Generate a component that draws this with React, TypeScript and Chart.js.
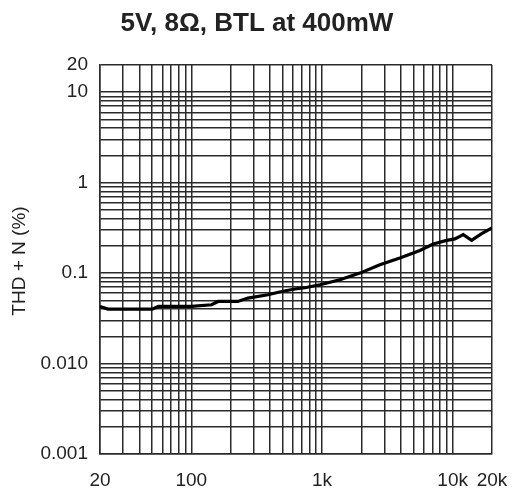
import React, { useEffect, useRef } from "react";
import { Chart, registerables } from "chart.js";

Chart.register(...registerables);

// ---- data ----
const TITLE = "5V, 8\u03A9, BTL at 400mW";
const Y_LABEL = "THD + N (%)";

const freqHz = [20, 23, 50, 56, 100, 143, 160, 227, 271, 386, 491, 621, 741, 964, 1371, 1950, 2774, 3946, 5614, 7096, 8989, 10400, 12050, 13970, 16650, 20000];
const thdPct = [0.0428, 0.040, 0.040, 0.0428, 0.0428, 0.0447, 0.0486, 0.0486, 0.053, 0.0576, 0.0627, 0.0667, 0.0689, 0.0744, 0.0846, 0.100, 0.124, 0.147, 0.178, 0.210, 0.230, 0.239, 0.266, 0.230, 0.273, 0.316];

// grid positions
const xGridValues = [
  20, 30, 40, 50, 60, 70, 80, 90,
  100, 200, 300, 400, 500, 600, 700, 800, 900,
  1000, 2000, 3000, 4000, 5000, 6000, 7000, 8000, 9000,
  10000, 20000,
];
const xTickValues = [20, 100, 1000, 10000, 20000];
const xTickLabels = ["20", "100", "1k", "10k", "20k"];

const yGridValues = [
  0.001, 0.002, 0.003, 0.004, 0.005, 0.006, 0.007, 0.008, 0.009,
  0.01, 0.02, 0.03, 0.04, 0.05, 0.06, 0.07, 0.08, 0.09,
  0.1, 0.2, 0.3, 0.4, 0.5, 0.6, 0.7, 0.8, 0.9,
  1, 2, 3, 4, 5, 6, 7, 8, 9,
  10, 20,
];
const yTickValues = [0.001, 0.01, 0.1, 1, 10, 20];
const yTickLabels = ["0.001", "0.010", "0.1", "1", "10", "20"];

const FONT = "'Liberation Sans', Arial, Helvetica, sans-serif";
const TEXT_COLOR = "#222";
const GRID_COLOR = "#2a2a2a";

function labelFor(values: number[], labels: string[], v: number): string {
  for (let i = 0; i < values.length; i++) {
    if (Math.abs(values[i] - v) / values[i] < 1e-6) return labels[i];
  }
  return "";
}

const textPlugin = {
  id: "extraText",
  afterDraw(chart: any) {
    const ctx = chart.ctx as CanvasRenderingContext2D;
    ctx.save();
    ctx.fillStyle = TEXT_COLOR;
    ctx.font = `bold 26px ${FONT}`;
    ctx.textAlign = "center";
    ctx.textBaseline = "alphabetic";
    ctx.fillText(TITLE, 257, 31);

    ctx.font = `19px ${FONT}`;
    ctx.translate(20, 261);
    ctx.rotate(-Math.PI / 2);
    ctx.textBaseline = "middle";
    ctx.fillText(Y_LABEL, 0, 0);
    ctx.restore();
  },
};

export default function App() {
  const canvasRef = useRef<HTMLCanvasElement | null>(null);

  useEffect(() => {
    if (!canvasRef.current) return;
    const chart = new Chart(canvasRef.current, {
      type: "line",
      data: {
        datasets: [
          {
            data: freqHz.map((f, i) => ({ x: f, y: thdPct[i] })),
            borderColor: "#000",
            borderWidth: 3.2,
            pointRadius: 0,
            tension: 0,
            fill: false,
          },
        ],
      },
      options: {
        animation: false,
        responsive: false,
        devicePixelRatio: 1,
        layout: { padding: { top: 65, right: 20, left: 0, bottom: 0 } },
        plugins: {
          legend: { display: false },
          title: { display: false },
          tooltip: { enabled: false },
        },
        scales: {
          x: {
            type: "logarithmic",
            min: 20,
            max: 20000,
            afterBuildTicks: (scale: any) => {
              scale.ticks = xGridValues.map((v) => ({ value: v }));
            },
            afterFit: (scale: any) => {
              scale.height = 39;
              scale.paddingLeft = 0;
              scale.paddingRight = 0;
            },
            ticks: {
              autoSkip: false,
              minRotation: 0,
              maxRotation: 0,
              padding: 15,
              color: TEXT_COLOR,
              font: { family: FONT, size: 19 },
              callback: (v: any) => labelFor(xTickValues, xTickLabels, Number(v)),
            },
            grid: { color: GRID_COLOR, lineWidth: 1.5, drawTicks: false },
            border: { display: true, color: GRID_COLOR, width: 1.5 },
          },
          y: {
            type: "logarithmic",
            min: 0.001,
            max: 20,
            afterBuildTicks: (scale: any) => {
              scale.ticks = yGridValues.map((v) => ({ value: v }));
            },
            afterFit: (scale: any) => {
              scale.width = 100;
              scale.paddingTop = 0;
              scale.paddingBottom = 0;
            },
            ticks: {
              autoSkip: false,
              padding: 12,
              color: TEXT_COLOR,
              font: { family: FONT, size: 19 },
              callback: (v: any) => labelFor(yTickValues, yTickLabels, Number(v)),
            },
            grid: { color: GRID_COLOR, lineWidth: 1.5, drawTicks: false },
            border: { display: true, color: GRID_COLOR, width: 1.5 },
          },
        },
      },
      plugins: [textPlugin],
    });
    return () => chart.destroy();
  }, []);

  return (
    <div style={{ position: "absolute", left: 0, top: 0, width: 512, height: 493, background: "#fff" }}>
      <canvas ref={canvasRef} width={512} height={493} style={{ width: 512, height: 493, display: "block" }} />
    </div>
  );
}
